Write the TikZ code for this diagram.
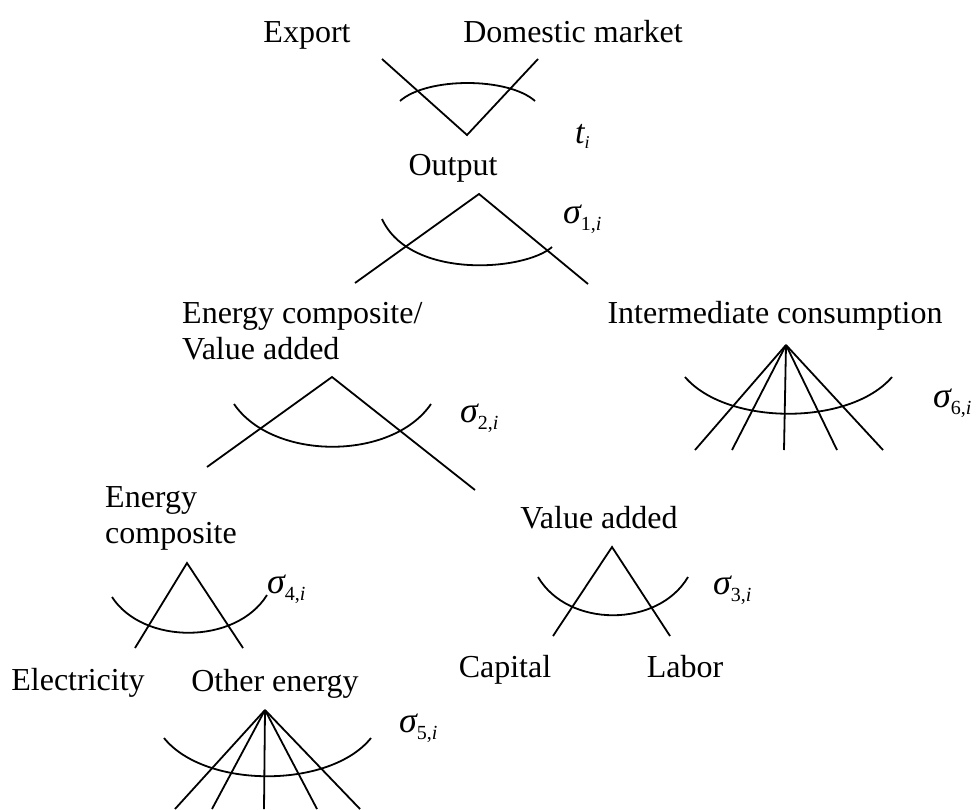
\documentclass[tikz,border=0pt]{standalone}
\usepackage{fontspec}
\setmainfont{Liberation Serif}
\newcommand{\sg}[1]{{\fontsize{36}{40}\selectfont\itshape σ}\raisebox{-7pt}{\fontsize{20}{24}\selectfont #1,\textit{i}}}
\begin{document}
\begin{tikzpicture}[x=1pt,y=-1pt,
  lbl/.style={inner sep=0pt,font=\fontsize{32}{36}\selectfont,anchor=base},
  sgl/.style={inner sep=0pt,anchor=base west},
  br/.style={line width=1.8pt},
  iso/.style={line width=1.8pt}]
\useasboundingbox (0,0) rectangle (976,809);
% labels
\node[lbl] (exp) at (307,42) {Export};
\node[lbl] (dom) at (573,42) {Domestic market};
\node[lbl] (out) at (453,175) {Output};
\node[lbl,anchor=base west,align=left] (ecva) at (182,359) {Energy composite/\\Value added};
\node[lbl] (ic) at (775,323) {Intermediate consumption};
\node[lbl,anchor=base west,align=left] (ec) at (105,543) {Energy\\composite};
\node[lbl] (va) at (599,528) {Value added};
\node[lbl] (cap) at (505,677) {Capital};
\node[lbl] (lab) at (685,677) {Labor};
\node[lbl] (ele) at (78,690) {Electricity};
\node[lbl] (oe) at (275,691) {Other energy};
% elasticities
\node[sgl] (t) at (575,143) {{\fontsize{34}{38}\selectfont\itshape t}\raisebox{-5pt}{\fontsize{18}{20}\selectfont\itshape i}};
\node[sgl] (s1) at (563,223) {\sg{1}};
\node[sgl] (s2) at (460,422) {\sg{2}};
\node[sgl] (s6) at (933,407) {\sg{6}};
\node[sgl] (s4) at (267,593) {\sg{4}};
\node[sgl] (s3) at (713,594) {\sg{3}};
\node[sgl] (s5) at (399,732) {\sg{5}};
% top: transformation
\coordinate (tA) at (467,135);
\coordinate (tL) at (382,59);
\coordinate (tR) at (538,59);
\draw[br] (tL) -- (tA) -- (tR);
\draw[iso] (400,101) .. controls (427,77) and (508,77) .. (535,101);
% output nest
\coordinate (oA) at (479,194);
\coordinate (oL) at (355,283);
\coordinate (oR) at (588,284);
\draw[br] (oL) -- (oA) -- (oR);
\draw[iso] (382,219) .. controls (410,280) and (525,271) .. (552,247);
% energy composite / value added nest
\coordinate (eA) at (332,377);
\coordinate (eL) at (207,467);
\coordinate (eR) at (475,490);
\draw[br] (eL) -- (eA) -- (eR);
\draw[iso] (234,404) .. controls (273,461) and (392,461) .. (431,404);
% intermediate consumption
\coordinate (iA) at (786,345);
\foreach \x [count=\k] in {695,732,784,837,883}{
  \coordinate (i\k) at (\x,450);
  \draw[br] (iA) -- (i\k);
}
\draw[iso] (685,377) .. controls (727,426) and (850,426) .. (892,377);
% energy composite
\coordinate (cA) at (187,563);
\coordinate (cL) at (135,648);
\coordinate (cR) at (243,648);
\draw[br] (cL) -- (cA) -- (cR);
\draw[iso] (112,597) .. controls (143,645) and (236,645) .. (267,595);
% value added
\coordinate (vA) at (612,547);
\coordinate (vL) at (553,636);
\coordinate (vR) at (670,636);
\draw[br] (vL) -- (vA) -- (vR);
\draw[iso] (538,577) .. controls (568,628) and (658,628) .. (688,577);
% other energy
\coordinate (nA) at (265,710);
\foreach \x [count=\k] in {175,212,264,317,360}{
  \coordinate (n\k) at (\x,809);
  \draw[br] (nA) -- (n\k);
}
\draw[iso] (164,738) .. controls (205,789) and (330,789) .. (371,738);
\end{tikzpicture}
\end{document}
